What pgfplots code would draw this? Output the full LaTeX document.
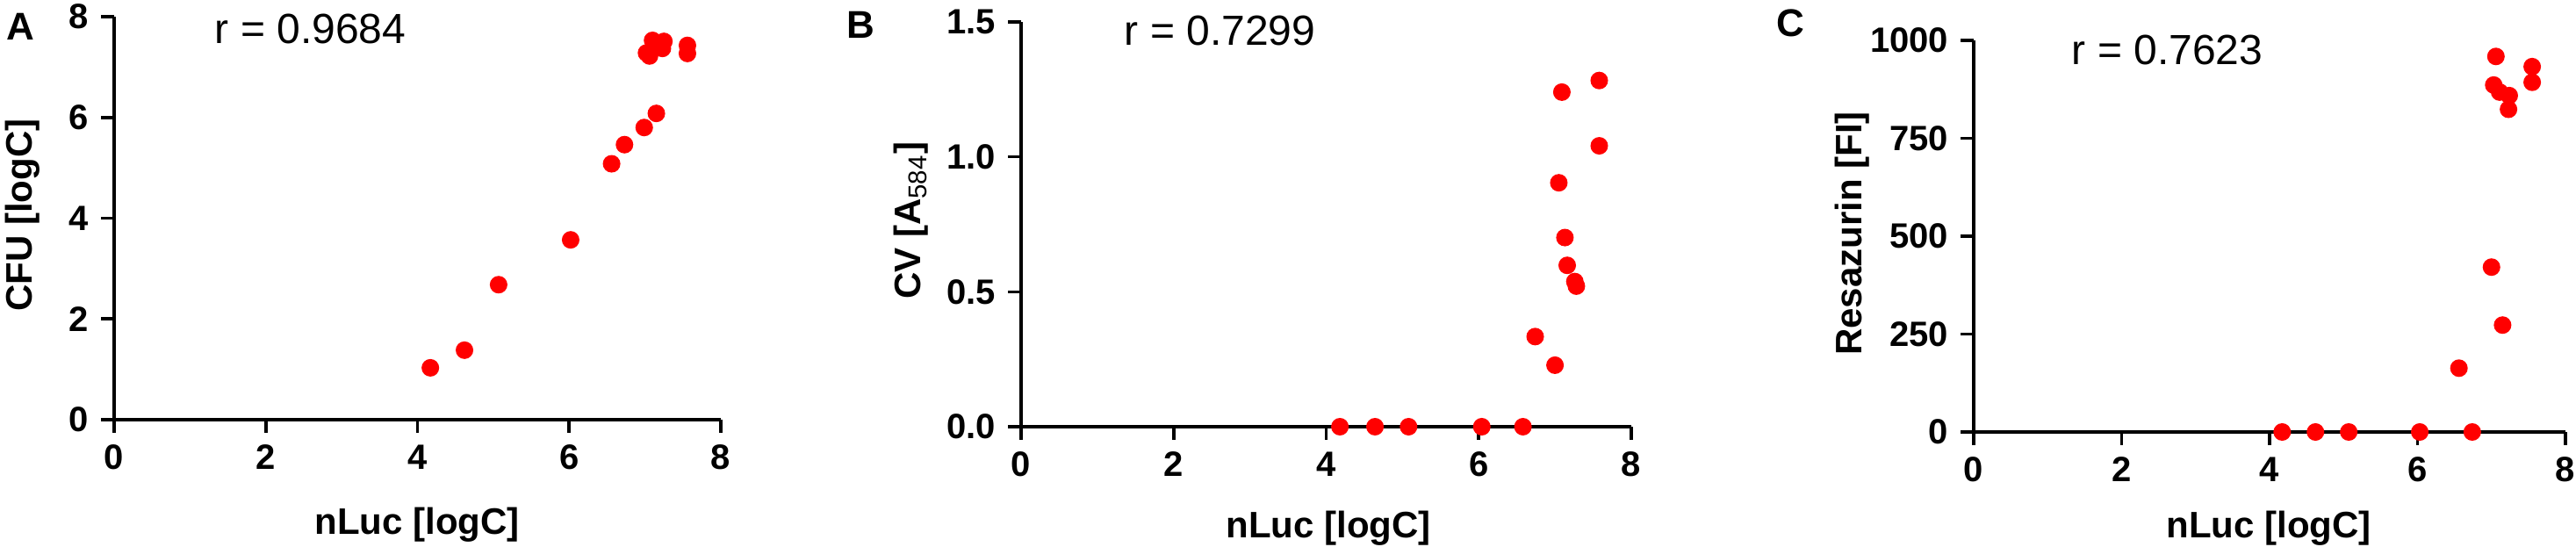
\documentclass[border=0pt]{standalone}
\usepackage{fontspec}
\setmainfont{Liberation Sans}
\usepackage{pgfplots}
\pgfplotsset{compat=1.18}

\pgfplotstableread{
x y
4.17 1.03
4.62 1.38
5.07 2.68
6.02 3.57
6.56 5.08
6.73 5.46
6.99 5.80
7.15 6.08
7.10 7.53
7.25 7.51
7.23 7.37
7.02 7.28
7.06 7.22
7.56 7.43
7.56 7.27
}\dataA

\pgfplotstableread{
x y
4.18 0
4.64 0
5.08 0
6.04 0
6.58 0
6.74 0.334
7.00 0.228
7.05 0.904
7.09 1.240
7.13 0.701
7.16 0.598
7.26 0.538
7.28 0.521
7.58 1.283
7.58 1.041
}\dataB

\pgfplotstableread{
x y
4.17 0
4.62 0
5.07 0
6.03 0
6.74 0
6.56 163
7.00 421
7.15 273
7.06 959
7.03 886
7.11 868
7.24 859
7.23 824
7.55 933
7.55 893
}\dataC

\pgfplotsset{
  prism/.style={
    scale only axis, clip=false,
    axis x line*=bottom, axis y line*=left,
    axis line style={line width=0.9pt, -},
    every tick/.style={line width=0.9pt, black},
    tick align=outside, major tick length=3.7pt,
    xmin=0, xmax=8, xtick={0,2,4,6,8},
    minor tick num=0,
    tick label style={font=\bfseries\fontsize{10}{12}\selectfont},
    /pgf/number format/assume math mode=true,
    /pgf/number format/set thousands separator={},
    anchor=south west,
  },
  dots/.style={only marks, mark=*, mark size=2.3pt, color=red, mark options={fill=red, draw=red}},
}

\begin{document}
\begin{tikzpicture}
\useasboundingbox (0,0) rectangle (733.5pt,155.5pt);

% Panel A
\begin{axis}[prism, at={(32.5pt,36pt)}, width=172.75pt, height=114.75pt,
  ymin=0, ymax=8, ytick={0,2,4,6,8}]
\addplot[dots] table[x=x,y=y] {\dataA};
\end{axis}

% Panel B
\begin{axis}[prism, at={(290.75pt,34pt)}, width=173.75pt, height=115.25pt,
  ymin=0, ymax=1.5, ytick={0,0.5,1,1.5},
  yticklabel style={/pgf/number format/fixed, /pgf/number format/fixed zerofill, /pgf/number format/precision=1}]
\addplot[dots] table[x=x,y=y] {\dataB};
\end{axis}

% Panel C
\begin{axis}[prism, at={(562pt,32.5pt)}, width=168.5pt, height=111.5pt,
  ymin=0, ymax=1000, ytick={0,250,500,750,1000}]
\addplot[dots] table[x=x,y=y] {\dataC};
\end{axis}

% panel letters
\node[anchor=base west, inner sep=0pt, font=\bfseries\fontsize{11}{13}\selectfont] at (1.75pt,144pt) {A};
\node[anchor=base west, inner sep=0pt, font=\bfseries\fontsize{11}{13}\selectfont] at (241pt,144.5pt) {B};
\node[anchor=base west, inner sep=0pt, font=\bfseries\fontsize{11}{13}\selectfont] at (505.75pt,145pt) {C};

% r values
\node[anchor=base west, inner sep=0pt, font=\fontsize{12}{14}\selectfont] at (61pt,143pt) {r = 0.9684};
\node[anchor=base west, inner sep=0pt, font=\fontsize{12}{14}\selectfont] at (320pt,142.5pt) {r = 0.7299};
\node[anchor=base west, inner sep=0pt, font=\fontsize{12}{14}\selectfont] at (589.75pt,137pt) {r = 0.7623};

% x labels
\node[anchor=base, inner sep=0pt, font=\bfseries\fontsize{10.5}{12}\selectfont] at (118.75pt,3.5pt) {nLuc [logC]};
\node[anchor=base, inner sep=0pt, font=\bfseries\fontsize{10.5}{12}\selectfont] at (378.25pt,2.5pt) {nLuc [logC]};
\node[anchor=base, inner sep=0pt, font=\bfseries\fontsize{10.5}{12}\selectfont] at (646pt,2.5pt) {nLuc [logC]};

% y labels
\node[rotate=90, inner sep=0pt, font=\bfseries\fontsize{10.5}{12}\selectfont] at (6.5pt,94.25pt) {CFU [logC]};
\node[rotate=90, inner sep=0pt, font=\bfseries\fontsize{10.5}{12}\selectfont] at (259.5pt,92.75pt) {CV [A\textsubscript{\mdseries 584}]};
\node[rotate=90, inner sep=0pt, font=\bfseries\fontsize{10.5}{12}\selectfont] at (527.5pt,89pt) {Resazurin [FI]};
\end{tikzpicture}
\end{document}
